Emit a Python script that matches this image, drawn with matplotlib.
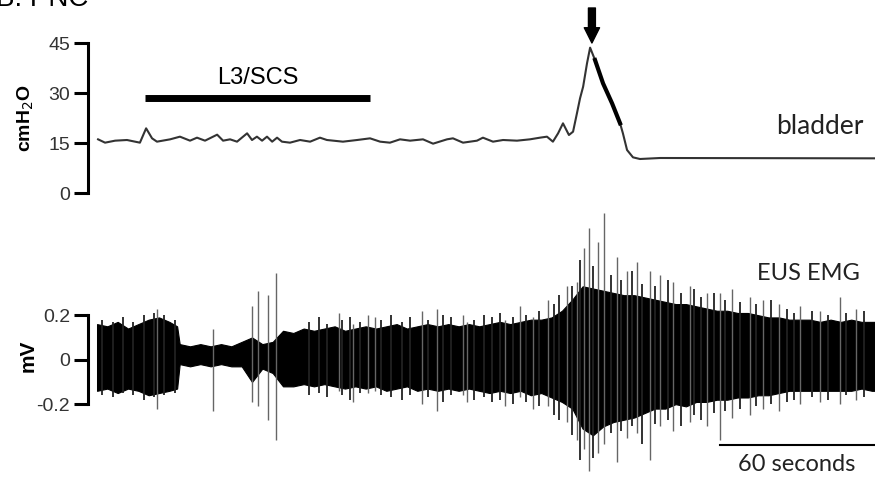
# bladder pressure and EUS EMG during L3/SCS (panel B, PNC)

import matplotlib
matplotlib.use("Agg")
import matplotlib.pyplot as plt

# bladder pressure trace (time in s, pressure in cmH2O)
bladder_t = [0.4, 3.1, 7.0, 11.6, 16.6, 19.0, 21.3, 23.2, 28.3, 32.1,
             36.0, 38.7, 41.8, 46.5, 48.8, 51.5, 54.2, 58.1, 60.0, 61.9,
             63.9, 65.8, 67.8, 69.7, 71.6, 74.7, 78.6, 82.5, 86.3, 89.0,
             95.2, 100.7, 105.7, 109.6, 113.4, 117.3, 121.2, 126.2, 130.1, 135.5,
             137.8, 141.7, 147.1, 149.4, 153.3, 157.2, 162.6, 167.6, 171.5, 174.2,
             176.5, 178.5, 180.4, 182.7, 184.3, 185.8, 187.0, 188.2, 189.7, 190.9,
             192.8, 195.9, 199.4, 202.5, 203.6, 205.2, 207.5, 210.2, 218.0, 301.2]
bladder_p = [16.1, 15.1, 15.7, 15.9, 15.1, 19.4, 16.4, 15.4, 16.1, 16.9,
             15.7, 16.6, 15.7, 17.5, 15.7, 16.1, 15.4, 17.9, 15.9, 16.9,
             15.7, 16.9, 15.4, 16.6, 15.4, 15.1, 15.9, 15.4, 16.6, 15.9,
             15.4, 15.9, 16.4, 15.4, 15.1, 16.1, 15.7, 16.1, 14.8, 16.1,
             16.4, 15.1, 15.7, 16.6, 15.4, 15.9, 15.7, 16.1, 16.6, 16.9,
             15.4, 17.9, 20.9, 17.4, 18.4, 23.9, 28.4, 31.9, 38.9, 43.6,
             39.9, 32.9, 26.9, 20.9, 17.9, 12.9, 10.7, 10.2, 10.5, 10.4]

# stimulation period and void marker
scs_on, scs_off = 18.6, 105.7
void_t = 191.6

# EMG envelope (time in s, mV)
emg_t = [0, 4, 8, 12, 16, 20, 24, 28, 31,
         32, 36, 40, 44, 48, 52, 56,
         60, 64, 68, 72, 76,
         80, 84, 88, 92, 96, 100, 104, 108, 112, 116, 120, 124, 128,
         132, 136, 140, 144, 148, 152, 156, 160, 164, 168, 172, 176,
         180, 184, 188, 192, 196, 200, 204, 208, 212, 216, 220, 224, 228,
         232, 236, 240, 244, 248, 252, 256, 260, 264, 268, 272, 276, 280,
         284, 288, 292, 296, 300, 301]
emg_hi = [0.16, 0.15, 0.17, 0.14, 0.16, 0.18, 0.19, 0.17, 0.15,
          0.07, 0.06, 0.07, 0.06, 0.07, 0.06, 0.08,
          0.10, 0.07, 0.08, 0.13, 0.12,
          0.14, 0.13, 0.14, 0.15, 0.13, 0.14, 0.15, 0.14, 0.15, 0.16, 0.14, 0.15, 0.16,
          0.15, 0.16, 0.15, 0.16, 0.15, 0.16, 0.17, 0.16, 0.17, 0.18, 0.18, 0.19,
          0.22, 0.27, 0.33, 0.32, 0.31, 0.30, 0.29, 0.29, 0.28, 0.27, 0.26, 0.25, 0.25,
          0.24, 0.23, 0.22, 0.22, 0.21, 0.21, 0.20, 0.19, 0.19, 0.18, 0.18, 0.18, 0.17,
          0.18, 0.17, 0.18, 0.17, 0.17, 0.17]
emg_lo = [-0.14, -0.13, -0.15, -0.13, -0.14, -0.16, -0.15, -0.14, -0.13,
          -0.02, -0.03, -0.02, -0.03, -0.02, -0.03, -0.03,
          -0.10, -0.04, -0.06, -0.12, -0.12,
          -0.11, -0.12, -0.11, -0.12, -0.13, -0.12, -0.13, -0.12, -0.14, -0.13, -0.12, -0.14, -0.13,
          -0.14, -0.13, -0.14, -0.13, -0.14, -0.15, -0.14, -0.15, -0.14, -0.16, -0.15, -0.17,
          -0.19, -0.22, -0.31, -0.34, -0.30, -0.28, -0.27, -0.26, -0.24, -0.22, -0.22, -0.20, -0.21,
          -0.19, -0.19, -0.18, -0.18, -0.17, -0.17, -0.16, -0.16, -0.15, -0.14, -0.14, -0.14, -0.14,
          -0.14, -0.14, -0.14, -0.13, -0.14, -0.14]

# single large EMG spikes: time, top, bottom
spike_t = [23.2, 44.9, 60.0, 62.3, 66.2, 69.3, 93.7, 99.1, 104.9, 107.6,
           125.8, 131.6, 141.7, 143.2, 158.0, 163.8, 168.8, 174.6, 182.0, 185.8,
           188.5, 190.5, 194.0, 196.3, 201.3, 205.0, 209.1, 214.1, 218.0, 223.0,
           229.6, 236.0, 241.2, 246.0, 252.8, 258.0, 264.0, 272.2, 280.0, 287.6, 294.0]
spike_hi = [0.23, 0.14, 0.24, 0.31, 0.29, 0.39, 0.21, 0.16, 0.20, 0.19,
            0.22, 0.23, 0.20, 0.17, 0.18, 0.24, 0.19, 0.27, 0.33, 0.35,
            0.50, 0.59, 0.53, 0.66, 0.46, 0.40, 0.44, 0.40, 0.38, 0.35,
            0.33, 0.30, 0.30, 0.32, 0.28, 0.27, 0.25, 0.24, 0.22, 0.28, 0.23]
spike_lo = [-0.22, -0.23, -0.19, -0.21, -0.27, -0.36, -0.14, -0.19, -0.15, -0.14,
            -0.20, -0.23, -0.16, -0.19, -0.21, -0.17, -0.22, -0.21, -0.28, -0.36,
            -0.40, -0.50, -0.42, -0.38, -0.46, -0.35, -0.33, -0.45, -0.30, -0.32,
            -0.28, -0.30, -0.36, -0.26, -0.25, -0.22, -0.23, -0.20, -0.19, -0.20, -0.18]

# smaller bursts that fray the edge of the dense trace
hair_t = [2, 6, 10, 14, 18, 22, 26, 30,
          82, 86, 89, 95, 98, 102, 110, 114, 118, 121, 128, 134, 137, 146, 150,
          153, 156, 161, 166, 171, 177, 179, 184, 187, 192, 199, 203, 207, 211, 216,
          221, 226, 231, 234, 239, 243, 249, 255, 261, 267, 270, 277, 283, 290, 297]
hair_hi = [0.18, 0.17, 0.19, 0.17, 0.20, 0.21, 0.20, 0.18,
           0.17, 0.19, 0.16, 0.18, 0.19, 0.17, 0.18, 0.20, 0.17, 0.19, 0.18, 0.20, 0.19, 0.18, 0.20,
           0.19, 0.21, 0.19, 0.20, 0.22, 0.25, 0.29, 0.33, 0.45, 0.42, 0.38, 0.36, 0.40, 0.34, 0.33,
           0.36, 0.30, 0.32, 0.28, 0.30, 0.27, 0.26, 0.25, 0.27, 0.23, 0.21, 0.22, 0.20, 0.21, 0.22]
hair_lo = [-0.16, -0.17, -0.15, -0.16, -0.18, -0.17, -0.16, -0.15,
           -0.16, -0.15, -0.17, -0.16, -0.18, -0.15, -0.16, -0.17, -0.18, -0.16, -0.17, -0.19, -0.16, -0.18, -0.17,
           -0.19, -0.18, -0.20, -0.19, -0.21, -0.25, -0.27, -0.34, -0.45, -0.44, -0.33, -0.32, -0.30, -0.38, -0.29,
           -0.27, -0.30, -0.25, -0.27, -0.24, -0.23, -0.22, -0.21, -0.20, -0.19, -0.18, -0.17, -0.18, -0.16, -0.17]

W, H = 875, 483
xlim = (-3.5, 301.2)
tick_font = "Liberation Sans"
note_font = "Lato"

fig = plt.figure(figsize=(W / 100, H / 100), dpi=100)

def style_axis(ax, lo, hi):
    for s in ["top", "right", "bottom"]:
        ax.spines[s].set_visible(False)
    ax.spines["left"].set_linewidth(2.2)
    ax.spines["left"].set_bounds(lo, hi)
    ax.set_xticks([])
    ax.tick_params(axis="y", direction="out", length=10, width=2.2,
                   pad=3, labelsize=14, labelcolor="#333333")
    for lab in ax.get_yticklabels():
        lab.set_fontfamily(tick_font)
    ax.set_xlim(*xlim)
    ax.patch.set_alpha(0)

# --- bladder pressure
ax1 = fig.add_axes([88 / W, 1 - 193 / H, (W - 88) / W, 150 / H])
ax1.plot(bladder_t, bladder_p, color="#333333", lw=1.5, clip_on=False)
# noisy falling edge looks thicker in the recording
i0, i1 = bladder_t.index(192.8), bladder_t.index(202.5)
ax1.plot(bladder_t[i0:i1 + 1], bladder_p[i0:i1 + 1], color="black", lw=3)
ax1.set_ylim(0, 45)
ax1.set_yticks([0, 15, 30, 45])
style_axis(ax1, 0, 45)
ax1.set_ylabel("cmH$_2$O", fontsize=14, fontweight="bold", family=tick_font)
ax1.yaxis.set_label_coords(-52 / 787, 0.5)

ax1.plot([scs_on, scs_off], [28.65, 28.65], color="black", lw=5, solid_capstyle="butt")
ax1.text((scs_on + scs_off) / 2, 34.5, "L3/SCS", ha="center", va="center",
         fontsize=17, family=tick_font)
ax1.annotate("", xy=(void_t, 45.0), xytext=(void_t, 55.5), annotation_clip=False,
             arrowprops=dict(arrowstyle="simple,head_width=1.1,head_length=1.1,tail_width=0.5",
                             fc="black", ec="black", mutation_scale=10,
                             shrinkA=0, shrinkB=0))
ax1.text(279.9, 20.1, "bladder", ha="center", va="center", fontsize=19,
         family=note_font, color="#222222")

# --- EUS EMG
ax2 = fig.add_axes([88 / W, 1 - 482 / H, (W - 88) / W, 278 / H])
ax2.fill_between(emg_t, emg_lo, emg_hi, color="black", lw=0.8)
ax2.vlines(hair_t, hair_lo, hair_hi, color="#222222", lw=1.3)
ax2.vlines(spike_t, spike_lo, spike_hi, color="#666666", lw=1.0)
ax2.set_ylim(-0.55, 0.7)
ax2.set_yticks([-0.2, 0, 0.2])
ax2.set_yticklabels(["-0.2", "0", "0.2"])
style_axis(ax2, -0.2, 0.2)
ax2.set_ylabel("mV", fontsize=15, fontweight="bold", family=tick_font)
ax2.yaxis.set_label_coords(-50 / 787, 0.455)

ax2.text(275.3, 0.387, "EUS EMG", ha="center", va="center", fontsize=17,
         family=note_font, color="#222222")
ax2.plot([241.2, 301.2], [-0.382, -0.382], color="black", lw=1.5, clip_on=False)
ax2.text(271.0, -0.472, "60 seconds", ha="center", va="center", fontsize=17,
         family=note_font, color="#222222")

fig.text(-0.004, 1 - 6 / H, "B. PNC", ha="left", va="baseline", fontsize=20,
         family=tick_font)

fig.savefig("out.png", dpi=100)
